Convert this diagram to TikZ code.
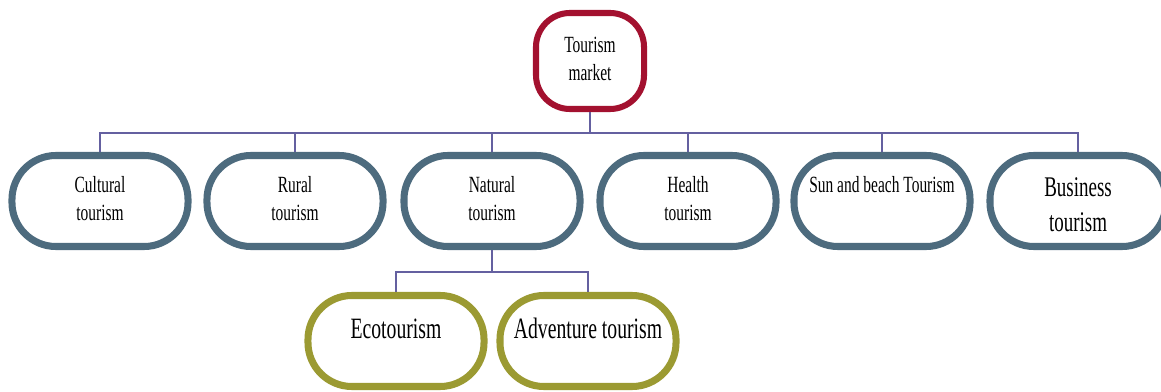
\documentclass[tikz,border=0pt]{standalone}
\usepackage{fontspec}
\setmainfont{Liberation Serif}
\usepackage{graphicx}
\usepackage{tikz}
\usetikzlibrary{calc}
\usepackage{xcolor}
\definecolor{R0}{HTML}{A3112F}
\definecolor{S0}{HTML}{4D6B7E}
\definecolor{O0}{HTML}{9B9A32}
\definecolor{L0}{HTML}{6460A0}
\newcommand{\tall}[1]{\scalebox{1}[1.5]{\begin{tabular}{@{}c@{}}#1\end{tabular}}}
\tikzset{
  box/.style={draw=S0,line width=5pt,rounded corners=1.1cm,fill=white,inner sep=0pt,
    minimum width=4.4cm,minimum height=2.275cm,font=\fontsize{11}{13.5}\selectfont},
  topbox/.style={box,draw=R0,line width=4.3pt,rounded corners=0.85cm,
    minimum width=2.7cm,minimum height=2.4cm},
  subbox/.style={box,draw=O0,font=\fontsize{14}{17}\selectfont},
  link/.style={draw=L0,line width=1.5pt}
}

\begin{document}
\begin{tikzpicture}[x=0.025cm,y=-0.025cm]
\useasboundingbox (0,0) rectangle (1161,392);
\clip (0,0) rectangle (1161,392);

\node[topbox] (market) at (590,61) {\tall{Tourism\\market}};

\node[box] (cult)   at (100,201) {\tall{Cultural\\tourism}};
\node[box] (rural)  at (295,201) {\tall{Rural\\tourism}};
\node[box] (nat)    at (492,201) {\tall{Natural\\tourism}};
\node[box] (health) at (688,201) {\tall{Health\\tourism}};
\node[box] (sun)    at (882,201) {\tall{Sun and beach Tourism\\ \mbox{}}};
\node[box,font=\fontsize{13.5}{16.5}\selectfont] (busi) at (1078,201) {\tall{Business\\tourism\\[-6pt]}};

\node[subbox] (eco) at (396,341) {\tall{Ecotourism\\[-8pt] \mbox{}}};
\node[subbox] (adv) at (588,341) {\tall{Adventure tourism\\[-8pt] \mbox{}}};

\coordinate (hub) at (0,133);
\coordinate (sub) at (0,272);

\foreach \n in {cult,rural,nat,health,sun,busi}
  \draw[link] (market.south) |- (\n.north |- hub) -- (\n.north);
\foreach \n in {eco,adv}
  \draw[link] (nat.south) |- (\n.north |- sub) -- (\n.north);

\end{tikzpicture}
\end{document}
